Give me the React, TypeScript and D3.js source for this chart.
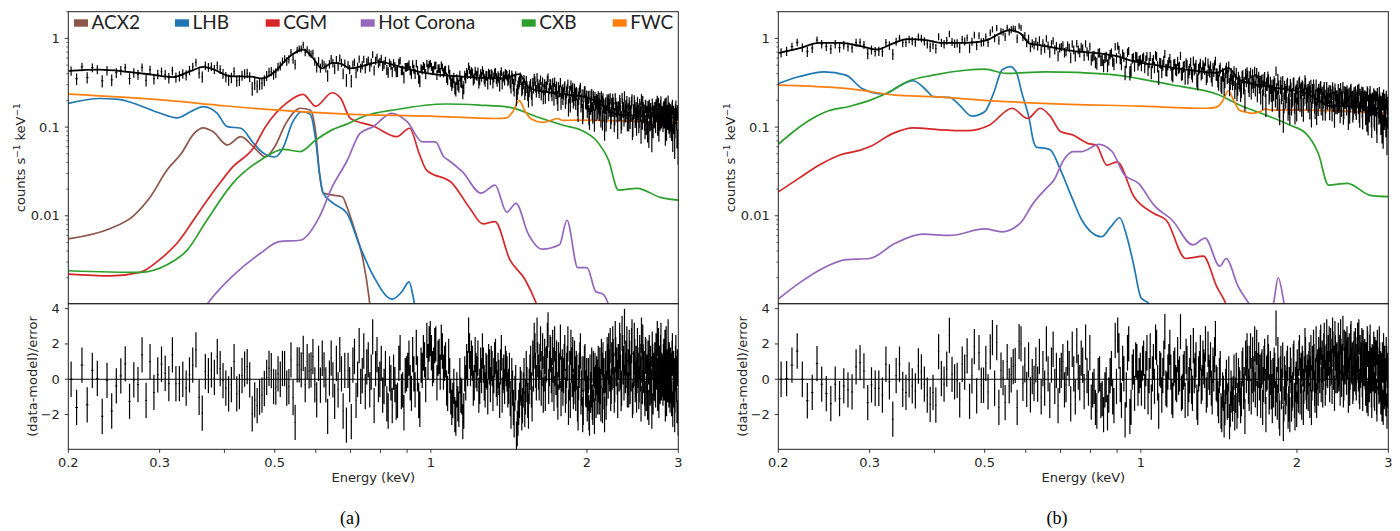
import React from "react";
import * as d3 from "d3";

// ---------- axis ticks ----------
const xMajorTicks = [0.2, 0.3, 0.5, 1, 2, 3];
const xTickLabels = ["0.2", "0.3", "0.5", "1", "2", "3"];
const xMinorTicks = [0.4, 0.6, 0.7, 0.8, 0.9];
const yMajorTicks = [0.01, 0.1, 1];
const yTickLabels = ["0.01", "0.1", "1"];
const rTicks = [-2, 0, 2, 4];
const rTickLabels = ["\u22122", "0", "2", "4"];

// ---------- legend ----------
const legendNames = ["ACX2", "LHB", "CGM", "Hot Corona", "CXB", "FWC"];
const legendColors = ["#8c564b", "#1f77b4", "#d62728", "#9467bd", "#2ca02c", "#ff7f0e"];

// ---------- energy bins [from, to, width] (keV) ----------
const binSegments = [[0.2, 3.0, 0.005]];
const exposureA = 32000;
const exposureB = 20000;

// ---------- panel (a) model curves: [keV, counts/s/keV] ----------
const totalA = [
  [0.2, 0.43], [0.23, 0.445], [0.26, 0.42], [0.29, 0.39], [0.318, 0.366], [0.345, 0.43],
  [0.364, 0.478], [0.38, 0.45], [0.41, 0.376], [0.45, 0.37], [0.474, 0.354], [0.5, 0.42],
  [0.53, 0.6], [0.567, 0.75], [0.59, 0.62], [0.617, 0.46], [0.645, 0.53], [0.67, 0.52],
  [0.7, 0.46], [0.75, 0.5], [0.8, 0.545], [0.85, 0.5], [0.95, 0.42], [1.15, 0.37],
  [1.37, 0.354], [1.44, 0.38], [1.48, 0.395], [1.55, 0.273], [1.8, 0.235], [2.0, 0.215],
  [2.1, 0.19], [2.2, 0.155], [2.3, 0.137], [2.5, 0.135], [3.0, 0.128],
];
const acx2A = [
  [0.2, 0.0055], [0.241, 0.0072], [0.266, 0.0098], [0.288, 0.0164], [0.31, 0.0328], [0.33, 0.05],
  [0.35, 0.0855], [0.364, 0.098], [0.38, 0.089], [0.405, 0.063], [0.43, 0.078], [0.455, 0.06],
  [0.48, 0.046], [0.5, 0.06], [0.526, 0.111], [0.56, 0.163], [0.585, 0.156], [0.6, 0.085],
  [0.61, 0.03], [0.62, 0.018], [0.648, 0.0171], [0.675, 0.0164], [0.69, 0.0123], [0.71, 0.0075],
  [0.74, 0.0032], [0.76, 0.0012], [0.77, 0.0006],
];
const lhbA = [
  [0.2, 0.185], [0.23, 0.21], [0.25, 0.205], [0.266, 0.187], [0.3, 0.144], [0.324, 0.127],
  [0.345, 0.15], [0.364, 0.17], [0.387, 0.144], [0.405, 0.101], [0.43, 0.097], [0.455, 0.066],
  [0.475, 0.051], [0.5, 0.046], [0.52, 0.06], [0.54, 0.11], [0.564, 0.149], [0.585, 0.14],
  [0.6, 0.07], [0.61, 0.03], [0.62, 0.018], [0.648, 0.0139], [0.689, 0.0107], [0.73, 0.0045],
  [0.774, 0.00212], [0.842, 0.00115], [0.88, 0.0014], [0.908, 0.0018], [0.925, 0.0012], [0.94, 0.0007],
];
const cgmA = [
  [0.2, 0.0022], [0.241, 0.0021], [0.275, 0.0023], [0.3, 0.0032], [0.324, 0.0049], [0.359, 0.0115],
  [0.387, 0.0212], [0.415, 0.0356], [0.455, 0.058], [0.48, 0.101], [0.526, 0.185], [0.567, 0.234],
  [0.6, 0.172], [0.645, 0.244], [0.67, 0.211], [0.7, 0.125], [0.774, 0.103], [0.86, 0.078],
  [0.91, 0.097], [0.95, 0.05], [0.98, 0.033], [1.1, 0.0232], [1.19, 0.0121], [1.26, 0.0081],
  [1.33, 0.0086], [1.42, 0.0032], [1.52, 0.0019], [1.6, 0.001], [1.65, 0.0006],
];
const hotA = [
  [0.35, 0.0006], [0.37, 0.001], [0.415, 0.0021], [0.47, 0.0038], [0.51, 0.0051], [0.56, 0.0053],
  [0.61, 0.0098], [0.645, 0.021], [0.69, 0.042], [0.73, 0.085], [0.774, 0.101], [0.84, 0.143],
  [0.9, 0.115], [0.964, 0.068], [1.02, 0.068], [1.06, 0.046], [1.08, 0.0426], [1.15, 0.0314],
  [1.25, 0.018], [1.33, 0.0222], [1.4, 0.011], [1.46, 0.0138], [1.54, 0.0063], [1.64, 0.0042],
  [1.77, 0.0047], [1.83, 0.0089], [1.92, 0.0026], [2.0, 0.0026], [2.08, 0.0014], [2.15, 0.0013],
  [2.2, 0.001], [2.25, 0.0006],
];
const cxbA = [
  [0.2, 0.0024], [0.275, 0.0023], [0.31, 0.0028], [0.339, 0.0041], [0.37, 0.0089], [0.415, 0.0232],
  [0.47, 0.0426], [0.52, 0.056], [0.56, 0.053], [0.6, 0.0715], [0.645, 0.093], [0.689, 0.108],
  [0.74, 0.131], [0.86, 0.158], [1.07, 0.182], [1.24, 0.177], [1.42, 0.167], [1.6, 0.131],
  [1.8, 0.105], [1.96, 0.091], [2.08, 0.0715], [2.2, 0.0426], [2.3, 0.0195], [2.5, 0.0204],
  [2.77, 0.0161], [3.0, 0.015],
];
const fwcA = [
  [0.2, 0.235], [0.31, 0.2], [0.387, 0.177], [0.483, 0.158], [0.689, 0.14], [1.0, 0.133],
  [1.34, 0.125], [1.4, 0.127], [1.44, 0.15], [1.48, 0.2], [1.52, 0.15], [1.56, 0.124],
  [1.64, 0.113], [1.7, 0.118], [1.75, 0.125], [1.8, 0.119], [1.91, 0.12], [3.0, 0.112],
];

// ---------- panel (b) model curves ----------
const totalB = [
  [0.2, 0.68], [0.219, 0.77], [0.24, 0.89], [0.263, 0.89], [0.288, 0.82], [0.31, 0.75],
  [0.333, 0.88], [0.354, 0.98], [0.386, 0.957], [0.41, 0.89], [0.463, 0.89], [0.505, 0.957],
  [0.535, 1.14], [0.56, 1.24], [0.585, 1.14], [0.61, 0.878], [0.64, 0.84], [0.72, 0.738],
  [0.9, 0.63], [0.95, 0.57], [1.07, 0.5], [1.24, 0.44], [1.4, 0.41], [1.475, 0.466],
  [1.55, 0.339], [1.8, 0.28], [2.08, 0.24], [2.2, 0.2], [2.3, 0.174], [2.5, 0.172], [3.0, 0.16],
];
const lhbB = [
  [0.2, 0.31], [0.219, 0.369], [0.245, 0.42], [0.27, 0.386], [0.29, 0.273], [0.32, 0.236],
  [0.34, 0.285], [0.364, 0.333], [0.386, 0.26], [0.398, 0.22], [0.428, 0.216], [0.447, 0.177],
  [0.472, 0.133], [0.5, 0.149], [0.52, 0.24], [0.54, 0.44], [0.56, 0.48], [0.575, 0.42],
  [0.59, 0.24], [0.61, 0.12], [0.62, 0.0715], [0.63, 0.059], [0.655, 0.0577], [0.67, 0.055],
  [0.7, 0.033], [0.74, 0.015], [0.77, 0.0089], [0.84, 0.0058], [0.875, 0.0075], [0.91, 0.0095],
  [0.94, 0.0058], [0.97, 0.0027], [1.0, 0.0012], [1.04, 0.001], [1.08, 0.0006],
];
const cgmB = [
  [0.2, 0.0186], [0.219, 0.0264], [0.24, 0.0373], [0.263, 0.0484], [0.288, 0.055], [0.3, 0.06],
  [0.333, 0.085], [0.364, 0.098], [0.41, 0.093], [0.463, 0.091], [0.51, 0.105], [0.565, 0.163],
  [0.605, 0.125], [0.64, 0.163], [0.67, 0.131], [0.7, 0.089], [0.74, 0.0815], [0.79, 0.0656],
  [0.82, 0.0627], [0.86, 0.0373], [0.9, 0.0406], [0.97, 0.0164], [1.06, 0.0106], [1.12, 0.0089],
  [1.22, 0.0033], [1.32, 0.0035], [1.4, 0.0016], [1.46, 0.001], [1.5, 0.0006],
];
const hotB = [
  [0.2, 0.00115], [0.219, 0.00173], [0.245, 0.0026], [0.27, 0.0032], [0.3, 0.0033], [0.336, 0.0049],
  [0.38, 0.0062], [0.428, 0.006], [0.5, 0.0071], [0.54, 0.0066], [0.585, 0.0082], [0.62, 0.0138],
  [0.655, 0.02], [0.68, 0.0253], [0.71, 0.0426], [0.74, 0.053], [0.77, 0.053], [0.83, 0.064],
  [0.88, 0.053], [0.93, 0.0288], [0.99, 0.0232], [1.06, 0.0132], [1.15, 0.0089], [1.26, 0.0047],
  [1.33, 0.0056], [1.42, 0.0027], [1.46, 0.0033], [1.54, 0.0016], [1.62, 0.001], [1.68, 0.0007],
  [1.76, 0.0008], [1.8, 0.001], [1.84, 0.002], [1.89, 0.001], [1.93, 0.0005],
];
const cxbB = [
  [0.2, 0.064], [0.21, 0.0815], [0.23, 0.12], [0.247, 0.149], [0.275, 0.172], [0.3, 0.2],
  [0.328, 0.25], [0.354, 0.324], [0.398, 0.386], [0.463, 0.44], [0.5, 0.45], [0.55, 0.403],
  [0.655, 0.42], [0.86, 0.396], [1.15, 0.298], [1.42, 0.229], [1.55, 0.177], [1.74, 0.137],
  [1.94, 0.105], [2.08, 0.085], [2.2, 0.05], [2.3, 0.0222], [2.5, 0.0232], [2.77, 0.017], [3.0, 0.0164],
];
const fwcB = [
  [0.2, 0.298], [0.255, 0.28], [0.29, 0.26], [0.336, 0.229], [0.398, 0.22], [0.5, 0.2],
  [0.65, 0.185], [1.0, 0.172], [1.34, 0.163], [1.4, 0.168], [1.44, 0.2], [1.475, 0.257],
  [1.51, 0.2], [1.55, 0.155], [1.6, 0.147], [1.64, 0.143], [1.7, 0.15], [1.74, 0.16],
  [1.79, 0.155], [1.9, 0.156], [3.0, 0.143],
];

// ---------- residuals (data-model)/error ----------
// 0.2-0.7 keV, 5 eV bins
const resALow = [
  0.0, -1.6, 0.8, -1.45, 0.5, 0.05, -2.1, -0.07, -1.8, -0.38,
  0.19, 0.87, -1.26, -0.04, -0.3, 1.38, -1.2, 1.0, -0.75, 0.25,
  0.85, 0.34, -0.25, 1.38, -0.26, -0.25, 0.0, -0.5, 0.25, 0.8,
  1.66, -1.02, -1.92, 0.43, 0.2, 0.53, 0.1, 1.28, 0.6, -0.08,
  -0.5, -0.83, -0.3, 1.0, -0.83, -0.7, 0.2, 0.57, 0.72, -0.04,
  -1.96, -1.17, -1.5, -1.02, -0.9, -0.53, 0.1, 0.62, 0.49, -0.42,
  -0.45, 0.3, 0.0, 0.62, 0.6, -0.5, -0.42, 1.1, -1.04, -2.45,
  0.81, 0.81, 0.53, 1.47, -0.3, 1.0, 0.47, 0.53, 1.28, -0.32,
  -1.17, 0.9, -0.34, 1.19, 0.53, -0.32, -2.1, 0.06, 1.2, -0.04,
  -1.26, 0.9, -0.6, 1.4, 0.3, -1.8, 0.5, -2.6, 0.5, -0.3,
];
// 0.7-3.0 keV, bins starting on the 10 eV grid
const resAHigh = [
  -2.4, 1.3, 0.0, -0.4, 1.6, 0.7, -0.6, 2.4, 0.6, -0.3,
  0.9, -0.4, -1.4, 0.3, -1.5, -0.3, -1.2, 1.5, -0.6, 0.2,
  0.5, -0.2, 1.4, -0.6, 0.3, -1.7, 0.5, 1.1, 2.2, 2.0,
  1.5, 0.8, 2.0, 1.2, 0.4, 1.6, 0.9, -0.5, 1.3, -1.0,
  -1.2, -2.0, -0.6, -1.7, -0.9, -2.4, 0.3, 1.0, 2.5, 0.6,
  0.9, -0.2, 0.5, 1.2, -0.4, 0.2, 0.8, -0.6, 0.4, 1.0,
  -0.3, 0.6, 0.2, 1.3, -0.5, 0.1, 0.7, -0.9, 0.4, 0.9,
  0.3, -0.4, -1.1, 0.2, -1.6, -0.8, -3.4, -2.2, -1.2, -0.5,
  -1.5, 0.2, -1.0, -0.3, -1.8, 0.4, -0.6, 1.2, 2.2, 0.5,
  2.5, 0.4, 1.0, -0.5, 1.6, 0.3, -0.8, 0.9, 2.8, 0.6,
  1.4, -0.3, 0.8, 2.0, 0.1, -0.6, 1.1, 0.5, -1.1, 0.7,
  0.2, 1.5, -0.4, 0.9, -1.6, 0.6, 1.8, 0.0, -0.7, 1.2,
  -0.8, 0.4, -1.9, 0.5, 1.6, -0.5, -2.0, 0.3, 1.0, -0.6,
  -1.4, 0.2, -2.2, -0.9, 0.8, -1.6, -0.3, 0.5, -1.2, 0.1,
  0.9, -1.0, -0.4, 1.3, -1.5, 0.2, -2.0, 0.6, -0.5, 1.0,
  1.6, 0.3, -0.8, 1.1, 2.0, 0.5, -0.3, 1.4, 0.8, -1.2,
  1.0, 2.2, 0.4, -0.5, 1.5, 0.9, 3.0, 0.2, 1.2, -0.6,
  0.7, 1.8, -0.4, 0.3, 2.4, -1.0, 0.6, 1.3, 0.0, -0.9,
  1.9, 0.5, -0.3, 1.0, -1.4, 0.8, 2.1, 0.2, -0.5, 1.4,
  -0.8, 0.4, 1.2, -1.6, 0.0, 0.9, -0.4, 1.7, -1.0, 0.3,
  1.1, -0.6, 0.6, 2.3, 0.2, -1.2, 0.9, 1.5, -0.2, 0.4,
  -0.5, 1.3, 0.1, -1.4, 2.0, 0.7, -0.3, 0.6, 1.1, -0.9,
  0.5, -1.1, 1.6, 0.2, -0.6, -2.0, 0.9, 0.3, -1.5, 0.6,
];
// 0.7-3.0 keV, the in-between 5 eV bins
const resAMid = [
  0.8, -1.2, 1.9, 0.2, -0.7, 1.1, 0.4, -1.5, 1.4, 0.0,
  -0.9, 0.6, -1.8, -0.2, 0.4, -1.3, 0.9, -0.7, -1.9, 0.3,
  1.2, -0.8, 0.3, 1.8, -1.2, 0.8, 1.5, -0.3, 1.0, 2.3,
  0.6, 1.9, -0.2, 1.3, 2.1, 0.4, 1.1, -0.8, 0.2, -1.6,
  -0.4, -2.2, -1.4, 0.2, -1.0, -1.8, -0.2, 0.6, 1.6, 1.2,
  -0.5, 1.4, 0.3, -0.9, 0.8, 1.6, -0.2, 0.5, -1.0, 0.7,
  0.9, -0.8, 1.1, 0.0, 0.5, -1.2, 1.5, 0.2, -0.4, 0.6,
  -0.6, 0.5, -1.8, -0.5, -2.3, -0.2, -2.8, -1.6, -0.3, -1.9,
  -0.6, -1.7, 0.6, -1.2, -0.4, 0.9, -1.4, 0.3, 1.6, -0.2,
  1.1, -0.2, 2.0, 0.6, -0.9, 1.3, 0.8, 2.2, -0.4, 1.5,
  0.2, 1.8, -0.8, 0.6, 1.2, -1.3, 0.4, 2.1, 0.3, -0.5,
  1.0, -0.9, 0.5, 2.0, -0.2, -1.2, 0.8, 1.4, -0.4, 0.3,
  0.6, -1.4, -0.2, 1.1, -1.0, 0.3, -1.6, 0.9, -0.5, 0.2,
  -0.8, -1.9, 0.4, -0.6, -1.3, 0.6, -2.1, -0.2, 0.3, -1.0,
  -0.3, 0.8, -1.4, 0.5, 1.1, -0.7, 0.2, -1.3, 1.4, -0.1,
  0.7, 1.9, -0.4, 0.4, 1.3, -0.9, 2.3, 0.6, 0.1, 1.0,
  0.3, 1.6, -0.8, 2.6, 0.7, -0.2, 1.2, 0.5, 2.0, 0.1,
  -0.6, 1.2, 0.4, 1.9, -1.2, 0.5, 2.2, -0.3, 0.9, 0.2,
  0.8, -0.7, 1.5, 0.3, 2.5, -0.4, 1.0, 0.6, -1.1, 1.3,
  0.2, -1.3, 0.7, 1.5, -0.5, 0.3, -1.8, 1.0, 0.5, -0.2,
  -0.3, 1.6, 0.4, -0.8, 1.9, 0.8, -0.4, 2.2, 0.5, 0.0,
  1.0, -0.2, 1.8, 0.4, -1.1, 0.6, 2.4, -0.6, 0.3, 0.8,
  -0.4, 1.2, -1.7, 0.6, 0.2, -0.9, 1.5, -0.3, 0.7, -2.2,
];
const resBLow = [
  0.0, 0.04, 0.8, 1.6, 0.0, -1.22, -0.75, 0.89, -0.28, -0.81,
  -1.38, -0.28, -1.1, -0.38, -0.6, -0.72, 0.7, 0.94, 0.47, -1.32,
  -0.32, -0.51, -0.51, -0.9, 0.85, -0.15, -2.26, 0.2, 0.85, -0.57,
  -0.75, -0.04, -0.38, -0.66, 0.75, 0.42, -0.28, -0.9, -1.42, -0.75,
  -1.47, 1.57, 0.04, -0.28, 0.57, 2.49, 0.28, -0.15, -0.06, -1.17,
  0.85, 0.4, 1.32, -1.26, 0.19, 1.85, -0.94, 1.51, -0.34, -0.34,
  0.9, -0.72, 1.55, 2.36, -0.51, 2.08, -1.6, 0.51, 0.09, -1.32,
  1.0, -0.38, 0.25, 0.72, 0.79, -1.6, 2.13, 2.0, -0.23, 0.81,
  -0.57, 1.1, -0.89, 0.15, -0.23, 0.81, -0.28, 1.3, -1.0, 0.6,
  -0.5, 2.0, 0.3, -1.2, 0.8, 1.7, -0.4, 0.5, -1.5, 0.2,
];
const resBHigh = [
  0.5, -0.6, 1.2, -1.4, 0.3, 1.9, -0.2, 0.8, 2.1, -0.5,
  -1.3, -0.4, -1.8, 0.3, -1.1, -0.6, -1.9, 0.2, -1.0, 2.2,
  2.5, -0.3, 0.9, -2.3, 1.5, -2.1, 0.4, -0.8, 1.0, 0.2,
  -0.5, 1.2, 0.6, -1.0, 1.6, 0.3, -0.4, 1.8, -1.8, 0.5,
  0.2, 2.7, -0.6, 1.0, 0.4, -1.2, 0.8, -0.3, 0.1, 2.7,
  -0.7, 0.6, 1.3, -1.1, 0.2, -0.4, 1.9, 0.5, -1.3, 0.3,
  1.5, -0.2, 0.7, 2.0, -0.6, 0.4, 1.1, -1.0, 0.3, 2.3,
  -0.3, -1.5, 0.6, -2.0, -0.8, -1.6, 0.1, -1.2, -2.4, -0.5,
  -1.4, 0.4, -0.9, -1.8, 0.2, -0.5, -1.1, 0.8, -0.3, 1.2,
  1.6, -0.4, 0.9, -1.0, 1.4, 0.3, -0.6, 1.8, 0.5, -0.2,
  -1.2, 0.7, -0.3, 1.3, -2.0, 0.4, 1.0, -0.7, 0.1, -1.5,
  -0.6, 0.5, 2.9, -1.3, 0.2, -2.2, 0.9, -0.4, -2.5, 0.3,
  -1.0, 0.6, -1.8, -0.3, 0.8, -1.4, -0.6, 1.2, -1.9, 0.0,
  0.7, -0.9, 1.5, 0.2, -1.3, 0.6, -0.4, 1.9, -0.2, 0.4,
  -0.8, 1.1, 0.3, -1.6, 0.9, 1.8, -0.5, 0.2, -1.2, 0.7,
  1.4, 0.2, 2.1, 0.8, -0.6, 1.6, 0.9, 0.1, 2.4, 0.5,
  1.2, -0.3, 1.9, 0.7, 2.5, 0.4, -0.8, 1.5, 1.0, 0.2,
  2.2, 0.6, -0.5, 1.3, 0.9, 2.6, -0.2, 0.8, 1.7, 0.1,
  1.0, -0.9, 1.6, 0.4, 2.3, 0.7, -0.4, 1.2, 0.3, 1.9,
  -0.2, 1.4, 0.8, 2.4, -0.7, 0.5, 1.1, 0.0, 1.8, 0.6,
  1.3, -0.5, 0.9, 2.0, -1.1, 0.4, 1.5, 0.2, -0.6, 1.0,
  0.3, 1.7, -0.8, 0.6, 1.2, -1.4, 0.8, 0.1, 2.0, -0.3,
  -1.0, 0.5, 1.1, -1.6, 0.4, 0.9, -0.5, 1.4, -1.8, 0.2,
];
const resBMid = [
  1.0, -0.3, 0.6, 1.7, -1.0, 0.4, 1.2, -0.7, 0.2, 1.5,
  -0.6, -1.6, 0.2, -1.2, -2.0, -0.3, -0.9, 0.6, -1.5, -0.4,
  1.6, -1.2, 0.3, -0.6, 2.0, -1.6, 0.7, 1.1, -0.5, 0.5,
  0.9, -0.7, 1.5, 0.2, -1.3, 1.0, 2.1, -0.2, 0.6, -0.9,
  1.2, -0.5, 0.4, 1.8, -1.0, 0.6, -0.2, 1.4, 0.3, -0.8,
  0.4, -1.2, 0.9, -0.3, 1.5, -0.8, 0.2, 1.1, -1.6, 0.6,
  -0.4, 1.2, 0.5, -0.9, 1.7, 0.1, -0.5, 0.8, 1.4, -0.2,
  -1.1, 0.2, -1.8, -0.6, -2.3, -0.4, -1.3, 0.3, -1.7, -0.9,
  -0.8, -1.9, 0.5, -1.2, -0.3, -1.5, 0.6, -0.7, -2.1, 0.2,
  0.9, -0.8, 1.6, 0.2, -0.3, 2.0, 0.6, -1.1, 1.1, 0.4,
  0.5, -1.6, 0.9, -0.4, 0.3, 1.5, -1.0, 0.6, -0.7, 0.2,
  0.8, -1.1, -0.3, 1.4, -1.8, 0.3, -0.7, 1.1, -1.4, -0.2,
  -0.5, 0.9, -1.4, -2.0, 0.2, -0.8, 1.0, -1.2, -0.3, -1.7,
  -0.4, 1.2, -1.0, 0.5, 0.9, -1.6, 0.3, 1.4, -0.7, 0.1,
  0.6, -1.2, 1.5, -0.2, 0.3, 1.0, -0.9, 2.0, 0.4, -0.5,
  0.8, 1.8, -0.3, 1.2, 0.4, 2.2, -0.5, 1.0, 0.6, 1.5,
  2.0, 0.6, 1.3, -0.4, 1.7, 0.9, 2.3, 0.2, 1.1, 0.5,
  0.3, 1.5, 2.4, 0.0, 1.0, -0.6, 1.8, 0.7, 1.2, 2.0,
  1.4, 0.2, -0.5, 2.1, 0.8, 1.1, -0.2, 1.7, 0.6, 0.1,
  1.0, 2.2, 0.3, -0.4, 1.5, 0.8, 1.9, -0.8, 0.7, 1.2,
  0.4, 1.1, -0.9, 1.7, 0.6, -0.3, 2.1, 0.8, -1.2, 0.5,
  0.9, -0.6, 1.4, 0.2, -1.0, 1.8, 0.4, -0.4, 1.1, 0.6,
  0.3, -1.4, 0.8, 1.6, -0.7, 0.2, -1.1, 0.9, 0.5, -0.6,
];

// ---------- layout ----------
const W = 1400;
const H = 531;
const PW = 610;
const TOP = 11.7;
const MID = 303.7;
const BOT = 449.3;
const FONT = "DejaVu Sans, sans-serif";
const TXT = "#262626";

type Pt = number[];

function makeBins() {
  const bins: { e: number; w: number }[] = [];
  binSegments.forEach(([a, b, w]) => {
    const n = Math.round((b - a) / w);
    d3.range(n).forEach((i) => bins.push({ e: a + (i + 0.5) * w, w }));
  });
  return bins;
}

// residuals in bin order: low part, then the 10 eV grid interleaved with the in-between bins
function residualSeries(low: number[], high: number[], mid: number[]) {
  const out = [...low];
  high.forEach((r, i) => {
    out.push(r);
    out.push(mid[i]);
  });
  return out;
}

function evalLogLog(knots: Pt[], e: number) {
  if (e <= knots[0][0]) return knots[0][1];
  for (let i = 0; i < knots.length - 1; i++) {
    const [e0, v0] = knots[i];
    const [e1, v1] = knots[i + 1];
    if (e >= e0 && e <= e1) {
      const t = Math.log(e / e0) / Math.log(e1 / e0);
      return Math.exp(Math.log(v0) + t * Math.log(v1 / v0));
    }
  }
  return knots[knots.length - 1][1];
}

function Panel(props: {
  ox: number;
  id: string;
  comps: Pt[][];
  total: Pt[];
  res: number[];
  expo: number;
  legend: boolean;
  caption: string;
  captionX: number;
}) {
  const { ox, id, comps, total, res, expo, legend, caption, captionX } = props;
  const x = d3.scaleLog().domain([0.2, 3]).range([ox, ox + PW]);
  const yT = d3.scaleLog().domain([0.00102, 2]).range([MID, TOP]);
  const yR = d3.scaleLinear().domain([-3.97, 4.28]).range([BOT, MID]);
  const line = d3
    .line<Pt>()
    .x((d) => x(d[0]))
    .y((d) => yT(d[1]))
    .curve(d3.curveMonotoneX);

  const bins = makeBins().slice(0, res.length);
  let topBars = "";
  let topCaps = "";
  let resBars = "";
  let resCaps = "";
  bins.forEach((b, i) => {
    const r = res[i];
    const m = evalLogLog(total, b.e);
    const s = 1 / Math.sqrt(m * b.w * expo);
    const v = m * (1 + r * s);
    const lo = Math.max(m * (1 + (r - 1) * s), 0.0011);
    const hi = m * (1 + (r + 1) * s);
    const xc = x(b.e);
    const xl = x(b.e - 0.00125);
    const xr = x(b.e + 0.00125);
    topBars += `M${xc.toFixed(2)},${yT(lo).toFixed(2)}V${yT(hi).toFixed(2)}`;
    topCaps += `M${xl.toFixed(2)},${yT(v).toFixed(2)}H${xr.toFixed(2)}`;
    resBars += `M${xc.toFixed(2)},${yR(r - 1).toFixed(2)}V${yR(r + 1).toFixed(2)}`;
    resCaps += `M${xl.toFixed(2)},${yR(r).toFixed(2)}H${xr.toFixed(2)}`;
  });

  const yMinor = yT.ticks().filter((t) => t >= 0.00102 && t <= 2);
  const legendX = [74, 175, 265.7, 360.7, 521.7, 612.7];

  return (
    <g>
      <defs>
        <clipPath id={`clip-${id}`}>
          <rect x={ox} y={TOP} width={PW} height={MID - TOP} />
        </clipPath>
        <clipPath id={`clipr-${id}`}>
          <rect x={ox} y={MID} width={PW} height={BOT - MID} />
        </clipPath>
      </defs>
      <g clipPath={`url(#clip-${id})`} fill="none">
        {comps.map((c, i) =>
          c.length ? (
            <path key={i} d={line(c as any) || ""} stroke={legendColors[i]} strokeWidth={1.7} />
          ) : null
        )}
        <path d={topBars} stroke="#000" strokeWidth={1.2} />
        <path d={topCaps} stroke="#000" strokeWidth={1} />
        <path d={line(total as any) || ""} stroke="#000" strokeWidth={1.8} />
      </g>
      <g clipPath={`url(#clipr-${id})`} fill="none">
        <path d={resBars} stroke="#000" strokeWidth={1.2} />
        <path d={resCaps} stroke="#000" strokeWidth={1} />
        <line x1={ox} x2={ox + PW} y1={yR(0)} y2={yR(0)} stroke="#000" strokeWidth={1.2} />
      </g>
      <rect x={ox} y={TOP} width={PW} height={MID - TOP} fill="none" stroke="#222" strokeWidth={1} />
      <rect x={ox} y={MID} width={PW} height={BOT - MID} fill="none" stroke="#222" strokeWidth={1} />
      {yMinor.map((t, i) => {
        const major = yMajorTicks.some((m) => Math.abs(m - t) / m < 1e-6);
        return (
          <line key={i} x1={ox} x2={ox - (major ? 3.5 : 2)} y1={yT(t)} y2={yT(t)} stroke="#222" strokeWidth={major ? 0.9 : 0.7} />
        );
      })}
      {yMajorTicks.map((t, i) => (
        <text key={i} x={ox - 8.5} y={yT(t)} dy="0.35em" textAnchor="end" fontFamily={FONT} fontSize={13} fill={TXT}>
          {yTickLabels[i]}
        </text>
      ))}
      {rTicks.map((t, i) => (
        <g key={i}>
          <line x1={ox} x2={ox - 3.5} y1={yR(t)} y2={yR(t)} stroke="#222" strokeWidth={0.9} />
          <text x={ox - 8.5} y={yR(t)} dy="0.35em" textAnchor="end" fontFamily={FONT} fontSize={13} fill={TXT}>
            {rTickLabels[i]}
          </text>
        </g>
      ))}
      {xMajorTicks.map((t, i) => (
        <g key={i}>
          <line x1={x(t)} x2={x(t)} y1={BOT} y2={BOT + 3.5} stroke="#222" strokeWidth={0.9} />
          <text x={x(t)} y={BOT + 17.5} textAnchor="middle" fontFamily={FONT} fontSize={13} fill={TXT}>
            {xTickLabels[i]}
          </text>
        </g>
      ))}
      {xMinorTicks.map((t, i) => (
        <line key={i} x1={x(t)} x2={x(t)} y1={BOT} y2={BOT + 3.5} stroke="#222" strokeWidth={0.9} />
      ))}
      <text x={ox + PW / 2} y={BOT + 33} textAnchor="middle" fontFamily={FONT} fontSize={13} fill={TXT}>
        Energy (keV)
      </text>
      <text
        transform={`translate(${ox - 43.3},${(TOP + MID) / 2}) rotate(-90)`}
        textAnchor="middle"
        fontFamily={FONT}
        fontSize={13}
        fill={TXT}
      >
        counts s<tspan dy={-5} fontSize={9}>{"\u22121"}</tspan>
        <tspan dy={5}> keV</tspan>
        <tspan dy={-5} fontSize={9}>{"\u22121"}</tspan>
      </text>
      <text
        transform={`translate(${ox - 31.5},${(MID + BOT) / 2}) rotate(-90)`}
        textAnchor="middle"
        fontFamily={FONT}
        fontSize={13}
        fill={TXT}
      >
        (data-model)/error
      </text>
      {legend &&
        legendNames.map((n, i) => (
          <g key={n}>
            <rect x={legendX[i]} y={19.3} width={14} height={7.4} fill={legendColors[i]} />
            <text x={legendX[i] + 17.5} y={29.3} fontFamily="Lato, sans-serif" fontSize={19} fill="#222">
              {n}
            </text>
          </g>
        ))}
      <text x={captionX} y={524} textAnchor="middle" fontFamily="Liberation Serif, serif" fontSize={18} fill="#000">
        {caption}
      </text>
    </g>
  );
}

export default function App() {
  return (
    <svg width={W} height={H} style={{ position: "absolute", left: 0, top: 0, background: "#fff" }}>
      <rect x={0} y={0} width={W} height={H} fill="#fff" />
      <Panel
        ox={68.3}
        id="a"
        comps={[acx2A, lhbA, cgmA, hotA, cxbA, fwcA]}
        total={totalA}
        res={residualSeries(resALow, resAHigh, resAMid)}
        expo={exposureA}
        legend={true}
        caption="(a)"
        captionX={350}
      />
      <Panel
        ox={778.3}
        id="b"
        comps={[[], lhbB, cgmB, hotB, cxbB, fwcB]}
        total={totalB}
        res={residualSeries(resBLow, resBHigh, resBMid)}
        expo={exposureB}
        legend={false}
        caption="(b)"
        captionX={1057}
      />
    </svg>
  );
}
